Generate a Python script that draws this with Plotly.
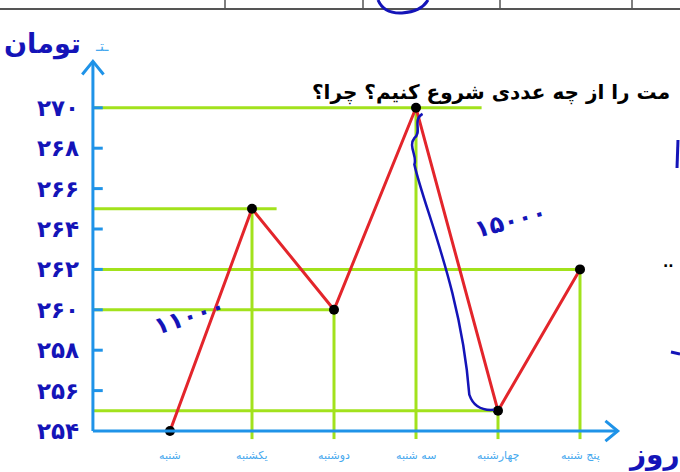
import plotly.graph_objects as go

# ---- data ----
days = ["شنبه", "یکشنبه", "دوشنبه", "سه شنبه", "چهارشنبه", "پنج شنبه"]
prices = [254, 265, 260, 270, 255, 262]
y_ticks = [254, 256, 258, 260, 262, 264, 266, 268, 270]
y_tick_labels = ["۲۵۴", "۲۵۶", "۲۵۸", "۲۶۰", "۲۶۲", "۲۶۴", "۲۶۶", "۲۶۸", "۲۷۰"]
notes = ["۱۱۰۰۰", "۱۵۰۰۰"]
y_title = "تومان"
x_title = "روز"
question = "مت را از چه عددی شروع کنیم؟ چرا؟"

W, H = 680, 472
AXIS_BLUE = "#1f93e8"
GREEN = "#a2e21c"
RED = "#e3252b"
NAVY = "#1414b8"
LBLUE = "#46a8ee"
FONT = "DejaVu Sans"

xs = list(range(1, len(days) + 1))
X0 = 0.06          # position of the vertical axis
YMIN = y_ticks[0]  # baseline of the horizontal axis
XR = [1 - 170 / 82, 1 + 510 / 82]
YR = [254 - 41 / 20.2, 254 + 431 / 20.2]


def px(x):
    return x / W


def py(y):
    return 1 - y / H


fig = go.Figure()
shapes = []
ann = []

# green guide lines (horizontal from axis, vertical from axis to point)
h_ext = {1: 0.3, 3: 0.8}
for i, (x, v) in enumerate(zip(xs, prices)):
    if v == YMIN:
        continue
    shapes.append(dict(type="line", xref="x", yref="y", x0=X0, x1=x + h_ext.get(i, 0.0),
                       y0=v, y1=v, line=dict(color=GREEN, width=3), layer="below"))
    shapes.append(dict(type="line", xref="x", yref="y", x0=x, x1=x,
                       y0=YMIN - 0.4, y1=v, line=dict(color=GREEN, width=3), layer="below"))

# blue axes
top = YMIN + 18.3
xend = 6.46
shapes.append(dict(type="line", xref="x", yref="y", x0=X0, x1=X0, y0=YMIN, y1=top,
                   line=dict(color=AXIS_BLUE, width=3)))
shapes.append(dict(type="line", xref="x", yref="y", x0=X0, x1=xend, y0=YMIN, y1=YMIN,
                   line=dict(color=AXIS_BLUE, width=3)))
# arrow chevrons
shapes.append(dict(type="path", xref="x", yref="y",
                   path=f"M {X0-0.13} {top-0.65} L {X0} {top} L {X0+0.13} {top-0.65}",
                   line=dict(color=AXIS_BLUE, width=3)))
shapes.append(dict(type="path", xref="x", yref="y",
                   path=f"M {xend-0.15} {YMIN+0.5} L {xend} {YMIN} L {xend-0.15} {YMIN-0.5}",
                   line=dict(color=AXIS_BLUE, width=3)))
# y ticks
for t in y_ticks[1:]:
    shapes.append(dict(type="line", xref="x", yref="y", x0=X0, x1=X0 + 0.12, y0=t, y1=t,
                       line=dict(color=AXIS_BLUE, width=3)))

# handwritten blue curve along the drop
x4, v4 = xs[3], prices[3]
x5, v5 = xs[4], prices[4]
curve = (f"M {x4+0.08} {v4-0.3} "
         f"C {x4-0.05} {v4-0.6}, {x4+0.08} {v4-1.2}, {x4-0.02} {v4-1.5} "
         f"C {x4-0.1} {v4-1.9}, {x4+0.02} {v4-2.4}, {x4-0.02} {v4-2.8} "
         f"C {x4+0.1} {v4-5}, {x4+0.55} {v4-9}, {x4+0.65} {v5+0.8} "
         f"C {x4+0.7} {v5+0.2}, {x4+0.8} {v5}, {x5-0.05} {v5+0.05}")
shapes.append(dict(type="path", xref="x", yref="y", path=curve,
                   line=dict(color=NAVY, width=2.5)))

# red line + dots
fig.add_trace(go.Scatter(x=xs, y=prices, mode="lines", line=dict(color=RED, width=3),
                         hoverinfo="skip", showlegend=False))
fig.add_trace(go.Scatter(x=xs, y=prices, mode="markers",
                         marker=dict(color="black", size=10, symbol="circle"),
                         showlegend=False))

# y tick labels
for t, lab in zip(y_ticks, y_tick_labels):
    ann.append(dict(x=X0 - 0.15, y=t, xref="x", yref="y", text=f"<b>{lab}</b>",
                    showarrow=False, xanchor="right", yanchor="middle",
                    font=dict(family=FONT, size=23, color=NAVY)))
# x tick labels
for x, d in zip(xs, days):
    ann.append(dict(x=x, y=YMIN - 1.2, xref="x", yref="y", text=d, showarrow=False,
                    xanchor="center", yanchor="middle",
                    font=dict(family=FONT, size=11, color=LBLUE)))
# axis titles
ann.append(dict(x=px(42), y=py(44), xref="paper", yref="paper", text=f"<b>{y_title}</b>",
                showarrow=False, xanchor="center", yanchor="middle",
                font=dict(family=FONT, size=27, color=NAVY)))
ann.append(dict(x=px(102), y=py(46), xref="paper", yref="paper", text="ـتـ",
                showarrow=False, xanchor="center", yanchor="middle",
                font=dict(family=FONT, size=14, color=LBLUE)))
ann.append(dict(x=px(654), y=py(454), xref="paper", yref="paper", text=f"<b>{x_title}</b>",
                showarrow=False, xanchor="center", yanchor="middle",
                font=dict(family=FONT, size=28, color=NAVY)))
# handwritten notes
ann.append(dict(x=(xs[0] + xs[1]) / 2 - 0.26, y=259.7, xref="x", yref="y",
                text=f"<b>{notes[0]}</b>", showarrow=False, textangle=-18,
                xanchor="center", yanchor="middle",
                font=dict(family=FONT, size=24, color=NAVY)))
ann.append(dict(x=(xs[3] + xs[4]) / 2 + 0.65, y=264.4, xref="x", yref="y",
                text=f"<b>{notes[1]}</b>", showarrow=False, textangle=-15,
                xanchor="center", yanchor="middle",
                font=dict(family=FONT, size=24, color=NAVY)))
# printed question
ann.append(dict(x=px(310), y=py(92), xref="paper", yref="paper", text=f"<b>{question}</b>",
                showarrow=False, xanchor="left", yanchor="middle",
                font=dict(family=FONT, size=20, color="black")))
# right-edge fragments
ann.append(dict(x=px(668), y=py(262), xref="paper", yref="paper", text="<b>..</b>",
                showarrow=False, xanchor="center", yanchor="middle",
                font=dict(family=FONT, size=14, color="black")))

# top table fragment
shapes.append(dict(type="line", xref="paper", yref="paper", x0=0, x1=1, y0=py(9), y1=py(9),
                   line=dict(color="#555", width=2)))
for vx in [225, 363, 500, 632]:
    shapes.append(dict(type="line", xref="paper", yref="paper", x0=px(vx), x1=px(vx),
                       y0=py(0), y1=py(9), line=dict(color="#555", width=1.5)))
shapes.append(dict(type="path", xref="paper", yref="paper",
                   path=f"M {px(378)} {py(0)} Q {px(384)} {py(14)} {px(402)} {py(13)} "
                        f"Q {px(421)} {py(12)} {px(428)} {py(0)}",
                   line=dict(color=NAVY, width=3)))
# right edge marks
shapes.append(dict(type="line", xref="paper", yref="paper", x0=px(678), x1=px(677),
                   y0=py(140), y1=py(168), line=dict(color=NAVY, width=3)))
shapes.append(dict(type="line", xref="paper", yref="paper", x0=px(671), x1=px(680),
                   y0=py(352), y1=py(354), line=dict(color=NAVY, width=3)))

fig.update_layout(
    width=W, height=H, margin=dict(l=0, r=0, t=0, b=0),
    paper_bgcolor="white", plot_bgcolor="white",
    xaxis=dict(range=XR, visible=False, fixedrange=True),
    yaxis=dict(range=YR, visible=False, fixedrange=True),
    shapes=shapes, annotations=ann, showlegend=False,
)
fig.write_html("out.html", config={"displayModeBar": False},
               post_script="document.body.style.margin='0';")
